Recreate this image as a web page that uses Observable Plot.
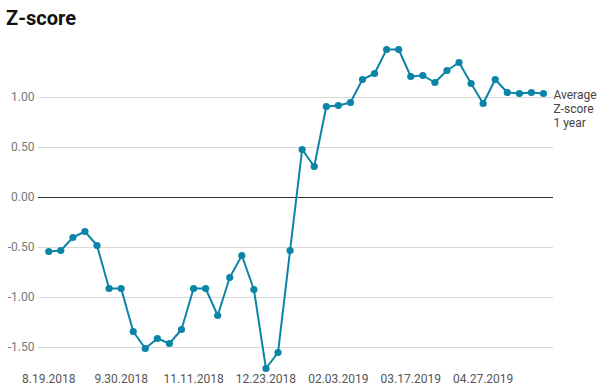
<!DOCTYPE html>
<html>
<head>
<meta charset="utf-8">
<script src="https://cdn.jsdelivr.net/npm/d3@7"></script>
<script src="https://cdn.jsdelivr.net/npm/@observablehq/plot@0.6"></script>
<style>
  html, body { margin: 0; padding: 0; background: #fff; }
  body { width: 600px; height: 388px; overflow: hidden; font-family: Roboto, "Open Sans", sans-serif; }
  #title { height: 38px; box-sizing: border-box; padding: 7px 0 0 6px; font-size: 20px; font-weight: 700; color: #111; line-height: 22px; }
</style>
</head>
<body>
<div id="title">Z-score</div>
<div id="chart"></div>
<script>
const values = [
  -0.54, -0.53, -0.40, -0.34, -0.48, -0.91, -0.91, -1.34, -1.51, -1.41,
  -1.46, -1.32, -0.91, -0.91, -1.18, -0.80, -0.58, -0.92, -1.71, -1.55,
  -0.53, 0.48, 0.31, 0.91, 0.92, 0.95, 1.18, 1.24, 1.48, 1.48,
  1.21, 1.22, 1.15, 1.27, 1.35, 1.14, 0.94, 1.18, 1.05, 1.04,
  1.05, 1.04
];
const tickIndices = [0, 6, 12, 18, 24, 30, 36];
const tickLabels = ["8.19.2018", "9.30.2018", "11.11.2018", "12.23.2018", "02.03.2019", "03.17.2019", "04.27.2019"];
const yTicks = [-1.5, -1, -0.5, 0, 0.5, 1];
const seriesLabel = "Average\nZ-score\n1 year";

const data = values.map((v, i) => ({i, v}));
const last = data[data.length - 1];
const color = "#0b84a8";

const chart = Plot.plot({
  width: 600,
  height: 350,
  marginLeft: 38,
  marginRight: 47,
  marginTop: 0,
  marginBottom: 18,
  style: {fontFamily: "Roboto, sans-serif", fontSize: "12px", background: "#fff"},
  x: {domain: [-0.85, 41.83], axis: null, label: null},
  y: {domain: [-1.73, 1.59], axis: null, label: null},
  marks: [
    Plot.ruleY(yTicks.filter(d => d !== 0), {stroke: "#d9d9d9", strokeWidth: 1}),
    Plot.ruleY([0], {stroke: "#333", strokeWidth: 1}),
    Plot.axisY(yTicks, {tickSize: 0, tickPadding: 4, label: null, tickFormat: d => d.toFixed(2), fill: "#777", fontSize: 12}),
    Plot.axisX(tickIndices, {tickSize: 0, tickPadding: 4, label: null, tickFormat: d => tickLabels[tickIndices.indexOf(d)], fill: "#555", fontSize: 12}),
    Plot.line(data, {x: "i", y: "v", stroke: color, strokeWidth: 2}),
    Plot.dot(data, {x: "i", y: "v", r: 3.6, fill: color}),
    Plot.text([last], {x: "i", y: "v", text: () => seriesLabel, dx: 10, dy: 15, textAnchor: "start", lineHeight: 1.15, fill: "#444", fontSize: 12})
  ]
});
document.getElementById("chart").appendChild(chart);
</script>
</body>
</html>
